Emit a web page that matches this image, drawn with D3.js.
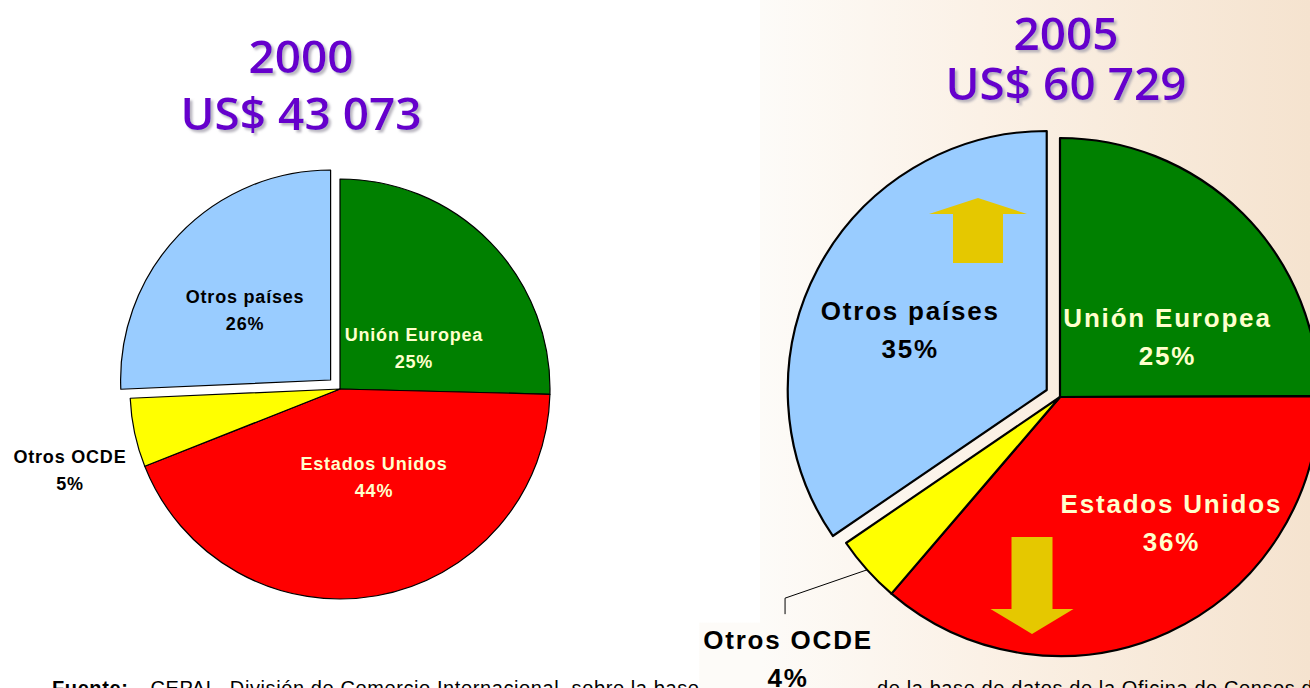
<!DOCTYPE html>
<html>
<head>
<meta charset="utf-8">
<script src="https://cdn.jsdelivr.net/npm/d3@7"></script>
<style>
  body { margin: 0; background: #fff; }
  svg { display: block; }
</style>
</head>
<body>
<div id="chart"></div>
<script>
// data
const categories = ["Unión Europea", "Estados Unidos", "Otros OCDE", "Otros países"];
const shares2000 = [25.4, 43.6, 5.3, 25.7];
const shares2005 = [25.0, 36.4, 4.2, 34.6];
const years = ["2000", "2005"];
const totalLabels = ["US$ 43 073", "US$ 60 729"];
const footerSource = "CEPAL, División de Comercio Internacional, sobre la base de datos oficiales de la base de datos de la Oficina de Censos de los Estados Unidos.";

const sliceColors = ["#008000", "#ff0000", "#ffff00", "#99ccff"];
const labelColors = ["#ffffcc", "#ffffcc", "#000000", "#000000"];

// layout for each pie (positions in radius units from the centre)
const charts = [
  {
    year: years[0], total: totalLabels[0], shares: shares2000,
    cx: 340, cy: 389, r: 210, explode: 13, stroke: 1.2,
    font: 18, ls: 0.8, gap: 27,
    titleX: 301, titleY: [73, 130],
    labelAt: [[0.352, -0.164], [0.162, 0.452], [-1.286, 0.417], [-0.452, -0.345]],
    leader: false, arrows: []
  },
  {
    year: years[1], total: totalLabels[1], shares: shares2005,
    cx: 1060, cy: 397, r: 259, explode: 15, stroke: 2.2,
    font: 26, ls: 1.8, gap: 38,
    titleX: 1066, titleY: [50, 100],
    labelAt: [[0.415, -0.198], [0.430, 0.521], [-1.050, 1.045], [-0.578, -0.223]],
    leader: true,
    arrows: [
      { x: -82, tip: -199, dir: -1, len: 65, head: 16, headHalf: 49, shaftHalf: 25 },
      { x: -28, tip: 237, dir: 1, len: 97, head: 25, headHalf: 41.5, shaftHalf: 20.5 }
    ]
  }
];

const W = 1310, H = 688;
const svg = d3.select("#chart").append("svg")
  .attr("width", W)
  .attr("height", H);

const defs = svg.append("defs");
const grad = defs.append("linearGradient")
  .attr("id", "bg")
  .attr("gradientUnits", "userSpaceOnUse")
  .attr("x1", 760).attr("y1", 0)
  .attr("x2", 1310).attr("y2", 0);
grad.append("stop").attr("offset", 0).attr("stop-color", "#fdfbf8");
grad.append("stop").attr("offset", 0.4).attr("stop-color", "#fbf1e6");
grad.append("stop").attr("offset", 1).attr("stop-color", "#f5e3cf");

defs.append("filter")
  .attr("id", "shadow")
  .attr("x", "-10%").attr("y", "-20%")
  .attr("width", "130%").attr("height", "150%")
  .append("feDropShadow")
  .attr("dx", 2.5).attr("dy", 2.5)
  .attr("stdDeviation", 0.8)
  .attr("flood-color", "#a8a4b0")
  .attr("flood-opacity", 0.8);

svg.append("rect")
  .attr("x", 760).attr("y", 0)
  .attr("width", W - 760).attr("height", H)
  .attr("fill", "url(#bg)");

// source line (cut off at the bottom, as in the slide)
const footer = svg.append("text")
  .attr("x", 52)
  .attr("y", 695)
  .style("font-family", "'Liberation Sans', Arial, sans-serif")
  .style("font-size", "20px")
  .style("letter-spacing", "0.6px")
  .attr("fill", "#000");
footer.append("tspan").style("font-weight", "bold").text("Fuente:");
footer.append("tspan").attr("dx", 22).text(footerSource);

const pie = d3.pie().sort(null).value(d => d);

charts.forEach(c => {
  const g = svg.append("g").attr("transform", `translate(${c.cx},${c.cy})`);
  const arc = d3.arc().innerRadius(0).outerRadius(c.r);
  const arcs = pie(c.shares);
  const last = categories.length - 1;

  const offset = (d, i) => {
    if (i !== last) return [0, 0];
    const mid = (d.startAngle + d.endAngle) / 2;
    return [c.explode * Math.sin(mid), -c.explode * Math.cos(mid)];
  };

  g.selectAll("path.slice")
    .data(arcs)
    .join("path")
    .attr("class", "slice")
    .attr("transform", (d, i) => `translate(${offset(d, i)})`)
    .attr("d", arc)
    .attr("fill", (d, i) => sliceColors[i])
    .attr("stroke", "#000")
    .attr("stroke-width", c.stroke)
    .attr("stroke-linejoin", "round");

  // trend arrows
  g.selectAll("path.arrow")
    .data(c.arrows)
    .join("path")
    .attr("class", "arrow")
    .attr("fill", "#e5c800")
    .attr("d", a => {
      const hb = a.tip - a.dir * a.head;
      const end = a.tip - a.dir * a.len;
      return d3.line()([
        [a.x, a.tip],
        [a.x + a.headHalf, hb],
        [a.x + a.shaftHalf, hb],
        [a.x + a.shaftHalf, end],
        [a.x - a.shaftHalf, end],
        [a.x - a.shaftHalf, hb],
        [a.x - a.headHalf, hb]
      ]) + "Z";
    });

  // labels
  const labels = g.selectAll("g.label")
    .data(arcs)
    .join("g")
    .attr("class", "label")
    .attr("transform", (d, i) => `translate(${c.labelAt[i][0] * c.r},${c.labelAt[i][1] * c.r})`);

  labels.each(function (d, i) {
    const lg = d3.select(this);
    const t = lg.append("text")
      .attr("text-anchor", "middle")
      .style("font-family", "'Liberation Sans', Arial, sans-serif")
      .style("font-weight", "bold")
      .style("font-size", c.font + "px")
      .style("letter-spacing", c.ls + "px")
      .attr("fill", labelColors[i]);
    t.append("tspan").attr("x", 0).attr("y", -c.gap / 2).text(categories[i]);
    t.append("tspan").attr("x", 0).attr("y", c.gap / 2).text(Math.round(d.data) + "%");

    // the outside label of the small slice sits on its own box
    if (c.leader && i === 2) {
      const bb = t.node().getBBox();
      const ox = c.cx + c.labelAt[i][0] * c.r;
      const oy = c.cy + c.labelAt[i][1] * c.r;
      lg.insert("rect", "text")
        .attr("transform", `translate(${-ox},${-oy})`)
        .attr("x", bb.x - 4 + ox)
        .attr("y", bb.y - 2 + oy)
        .attr("width", bb.width + 8)
        .attr("height", bb.height + 30)
        .attr("fill", "url(#bg)");
    }
  });

  if (c.leader) {
    const d = arcs[2];
    const mid = (d.startAngle + d.endAngle) / 2;
    const lx = c.labelAt[2][0] * c.r, ly = c.labelAt[2][1] * c.r;
    g.append("path")
      .attr("fill", "none")
      .attr("stroke", "#000")
      .attr("stroke-width", 1)
      .attr("d", d3.line()([
        [c.r * Math.sin(mid), -c.r * Math.cos(mid)],
        [lx - 3, ly - 69.5],
        [lx - 3, ly - 53.5]
      ]));
  }

  // titles with soft shadow
  [c.year, c.total].forEach((txt, k) => {
    svg.append("text")
      .attr("x", c.titleX).attr("y", c.titleY[k])
      .attr("text-anchor", "middle")
      .attr("filter", "url(#shadow)")
      .style("font-family", "'Open Sans', sans-serif")
      .style("font-weight", 600)
      .style("font-size", "46px")
      .attr("fill", "#6600cc")
      .text(txt);
  });
});
</script>
</body>
</html>
